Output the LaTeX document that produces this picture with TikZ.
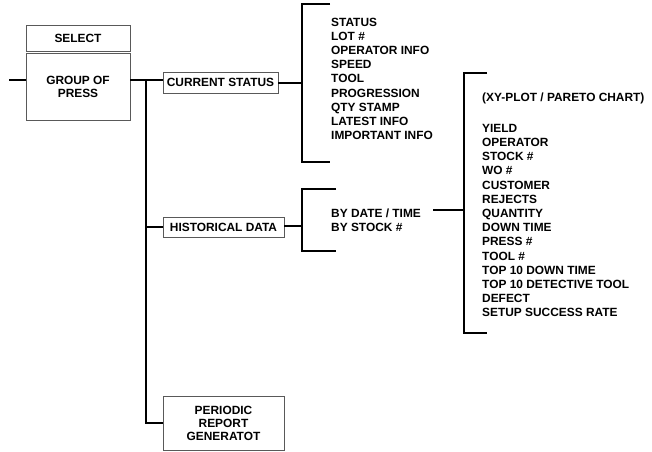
\documentclass[tikz,border=0pt]{standalone}
\usepackage{fontspec}
\setmainfont{Liberation Sans}
\usetikzlibrary{positioning}
\tikzset{
  menubox/.style={rectangle, draw=black!65, line width=0.9pt, fill=white,
                  align=center, inner sep=2pt,
                  font=\bfseries\fontsize{11.9}{13}\selectfont},
  itemlist/.style={anchor=north west, align=left, inner sep=0pt,
                   font=\bfseries\fontsize{11.9}{14.2}\selectfont},
  wire/.style={draw=black, line width=2pt},
}

\begin{document}
\begin{tikzpicture}[x=1pt, y=-1pt]
  \useasboundingbox (0,0) rectangle (652,451);

  % menu boxes
  \node[menubox, minimum width=104pt, minimum height=26pt] (select) at (78,38) {SELECT};
  \node[menubox, minimum width=104pt, minimum height=67pt, below=1.2pt of select] (group)
    {GROUP OF\\PRESS};
  \node[menubox, minimum width=115pt, minimum height=21pt] (current) at (220.5,82.5)
    {CURRENT STATUS};
  \node[menubox, minimum width=121pt, minimum height=20pt] (historical) at (223.5,227)
    {HISTORICAL DATA};
  \node[menubox, minimum width=121pt, minimum height=54pt] (periodic) at (223.5,423)
    {PERIODIC\\REPORT\\GENERATOT};

  % item lists
  \node[itemlist] (statuslist) at (331,17.5)
    {STATUS\\LOT \#\\OPERATOR INFO\\SPEED\\TOOL\\PROGRESSION\\QTY STAMP\\
     LATEST INFO\\IMPORTANT INFO};
  \node[itemlist] (bydate) at (331,208.5)
    {BY DATE / TIME\\BY STOCK \#};
  \node[itemlist] (chartlist) at (482,92.5)
    {(XY-PLOT / PARETO CHART)\\[16.8pt]
     YIELD\\OPERATOR\\STOCK \#\\WO \#\\CUSTOMER\\REJECTS\\QUANTITY\\DOWN TIME\\
     PRESS \#\\TOOL \#\\TOP 10 DOWN TIME\\TOP 10 DETECTIVE TOOL\\DEFECT\\
     SETUP SUCCESS RATE};

  % tree lines
  \coordinate (feed) at (9,80);
  \coordinate (trunk) at (146,80);
  \draw[wire] (feed) -- (feed -| group.west);
  \draw[wire] (group.east |- trunk) -- (current.west |- trunk);
  \draw[wire] (trunk) -- (trunk |- periodic.west) -- (periodic.west);
  \draw[wire] (trunk |- historical.west) -- (historical.west);

  % brackets
  \coordinate (statusbrace) at (302,82.5);
  \coordinate (datebrace) at (302,226);
  \coordinate (chartbrace) at (464,210);
  \draw[wire] (current.east) -- (statusbrace);
  \draw[wire] (330,4) -- (302,4) -- (302,162) -- (330,162);
  \draw[wire] (historical.east |- datebrace) -- (datebrace);
  \draw[wire] (336,189) -- (302,189) -- (302,251) -- (336,251);
  \draw[wire] ([xshift=12pt]bydate.east |- chartbrace) -- (chartbrace);
  \draw[wire] (487,73) -- (464,73) -- (464,333) -- (487,333);
\end{tikzpicture}
\end{document}
